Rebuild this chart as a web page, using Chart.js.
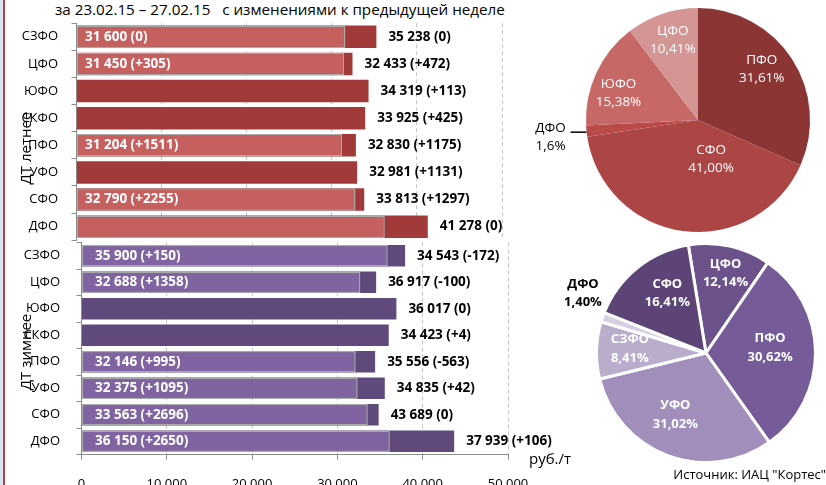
<!DOCTYPE html>
<html>
<head>
<meta charset="utf-8">
<script src="https://cdn.jsdelivr.net/npm/chart.js@4.4.1/dist/chart.umd.min.js"></script>
<style>
  html, body { margin: 0; padding: 0; background: #fff; }
  body { width: 826px; height: 485px; position: relative; overflow: hidden;
         font-family: "Open Sans", sans-serif; color: #000; }
  .box { position: absolute; }
  .txt { position: absolute; white-space: pre; line-height: 1; }
  .vtitle { position: absolute; white-space: pre; line-height: 1; font-size: 15px;
            transform: translate(-50%, -50%) rotate(-90deg); }
</style>
</head>
<body>
<div class="box" style="left:0;top:0;width:3px;height:485px;background:#dce6f2"></div>
<div class="box" style="left:3px;top:0;width:1.5px;height:485px;background:#b04442"></div>

<div class="txt" style="left:55px;top:1.5px;font-size:15.2px">за 23.02.15 – 27.02.15   с изменениями к предыдущей неделе</div>

<div class="box" style="left:0;top:0;width:520px;height:245px"><canvas id="summerBars"></canvas></div>
<div class="box" style="left:0;top:240px;width:560px;height:245px"><canvas id="winterBars"></canvas></div>
<div class="box" style="left:520px;top:0;width:306px;height:240px"><canvas id="summerPie"></canvas></div>
<div class="box" style="left:540px;top:235px;width:286px;height:250px"><canvas id="winterPie"></canvas></div>

<div class="vtitle" style="left:24.5px;top:147.5px">ДТ летнее</div>
<div class="vtitle" style="left:25px;top:352px">ДТ зимнее</div>
<div class="txt" style="left:529px;top:450.7px;font-size:15px">руб./т</div>
<div class="txt" style="right:0;top:467.5px;font-size:13px">Источник: ИАЦ "Кортес"</div>

<script>
// ---- data ----
const regions = ['СЗФО', 'ЦФО', 'ЮФО', 'СКФО', 'ПФО', 'УФО', 'СФО', 'ДФО'];

// summer diesel, руб./т
const summerLow       = [31600, 31450, null, null, 31204, null, 32790, 36230];
const summerLowChange = [0, 305, null, null, 1511, null, 2255, null];
const summerHigh       = [35238, 32433, 34319, 33925, 32830, 32981, 33813, 41278];
const summerHighChange = [0, 472, 113, 425, 1175, 1131, 1297, 0];

// winter diesel, руб./т
const winterLow       = [35900, 32688, null, null, 32146, 32375, 33563, 36150];
const winterLowChange = [150, 1358, null, null, 995, 1095, 2696, 2650];
const winterHigh       = [37939, 34543, 36917, 36017, 34423, 35556, 34835, 43689];
const winterHighChange = [106, -172, -100, 0, 4, -563, 42, 0];

const priceTicks = [0, 10000, 20000, 30000, 40000, 50000];

// shares by district, %
const summerShareRegions = ['ПФО', 'СФО', 'ДФО', 'ЮФО', 'ЦФО'];
const summerShare        = [31.61, 41.00, 1.6, 15.38, 10.41];
const summerShareDigits  = [2, 2, 1, 2, 2];
const winterShareRegions = ['ЦФО', 'ПФО', 'УФО', 'СЗФО', 'ДФО', 'СФО'];
const winterShare        = [12.14, 30.62, 31.02, 8.41, 1.40, 16.41];
const winterShareDigits  = [2, 2, 2, 2, 2, 2];

// ---- helpers ----
const FONT = '"Open Sans", sans-serif';
const num = v => String(v).replace(/\B(?=(\d{3})+(?!\d))/g, ' ');
const delta = d => (d > 0 ? '+' + d : String(d));
const note = (v, d) => `${num(v)} (${delta(d)})`;
const pct = (v, digits) => v.toFixed(digits).replace('.', ',') + '%';

const n = regions.length;
const summerInner = regions.map((_, i) =>
  summerLow[i] != null && summerLowChange[i] != null ? note(summerLow[i], summerLowChange[i]) : '');
const summerOuter = regions.map((_, i) => note(summerHigh[i], summerHighChange[i]));
const winterInner = regions.map((_, i) =>
  winterLow[i] != null && winterLowChange[i] != null ? note(winterLow[i], winterLowChange[i]) : '');
// each winter note is printed one row above its own bar
const winterOuter = regions.map((_, r) => {
  const k = (r + 1) % n;
  return note(winterHigh[k], winterHighChange[k]);
});

// text on and beside the bars
function barNotes(inner, outer, innerPad, outerPad) {
  return {
    id: 'barNotes',
    afterDatasetsDraw(chart) {
      const ctx = chart.ctx;
      const low = chart.getDatasetMeta(0).data;
      const high = chart.getDatasetMeta(1).data;
      ctx.save();
      ctx.font = `bold 13.5px ${FONT}`;
      ctx.textBaseline = 'middle';
      ctx.textAlign = 'left';
      inner.forEach((t, i) => {
        if (!t) return;
        ctx.fillStyle = '#ffffff';
        ctx.fillText(t, chart.chartArea.left + innerPad, low[i].y);
      });
      outer.forEach((t, i) => {
        ctx.fillStyle = '#000000';
        ctx.fillText(t, high[i].x + outerPad, high[i].y);
      });
      ctx.restore();
    }
  };
}

function barChart(canvasId, low, high, colors, cfg) {
  return new Chart(document.getElementById(canvasId), {
    type: 'bar',
    data: {
      labels: regions,
      datasets: [
        { data: low, backgroundColor: colors.low, borderColor: '#a9a9a9', borderWidth: 1.5,
          borderSkipped: false, grouped: false, barPercentage: cfg.barPct, categoryPercentage: 1 },
        { data: high, backgroundColor: colors.high, borderWidth: 0,
          grouped: false, barPercentage: cfg.barPct, categoryPercentage: 1 }
      ]
    },
    options: {
      indexAxis: 'y',
      responsive: true,
      maintainAspectRatio: false,
      animation: false,
      events: [],
      layout: { padding: cfg.padding },
      plugins: { legend: { display: false }, tooltip: { enabled: false } },
      scales: {
        x: {
          type: 'linear', min: 0, max: 50000,
          afterBuildTicks: s => { s.ticks = priceTicks.map(v => ({ value: v })); },
          afterFit: s => { s.height = cfg.xHeight; s.paddingLeft = 0; s.paddingRight = 0; },
          ticks: {
            display: cfg.xLabels, autoSkip: false, maxRotation: 0, padding: cfg.xPad,
            color: '#000', font: { family: FONT, size: 13 },
            callback: v => num(v)
          },
          grid: { color: '#c4c4c4', lineWidth: 1, drawTicks: cfg.xLabels, tickLength: 5,
                  tickColor: '#8c8c8c', tickWidth: 1 },
          border: { display: cfg.xLabels, color: '#8c8c8c', width: 1, dash: [4, 3] }
        },
        y: {
          type: 'category',
          afterFit: s => { s.width = cfg.yWidth; s.paddingTop = 0; s.paddingBottom = 0; },
          ticks: { color: '#000', padding: cfg.yPad, font: { family: FONT, size: 13 } },
          grid: { offset: true, drawOnChartArea: false, tickLength: 5, color: '#8c8c8c', lineWidth: 1 },
          border: { display: true, color: '#8c8c8c', width: 1 }
        }
      }
    },
    plugins: [barNotes(cfg.inner, cfg.outer, cfg.innerPad, 12)]
  });
}

barChart('summerBars', summerLow, summerHigh, { low: '#c6605e', high: '#a33a3a' }, {
  barPct: 0.83, padding: { left: 0, right: 18, top: 23.2, bottom: 4.8 },
  xHeight: 0, xLabels: false, xPad: 0, yWidth: 76.5, yPad: 13.5,
  inner: summerInner, outer: summerOuter, innerPad: 8.5
});

barChart('winterBars', winterLow, winterHigh, { low: '#8064a2', high: '#5f4a7b' }, {
  barPct: 0.81, padding: { left: 0, right: 52, top: 2.5, bottom: 0 },
  xHeight: 30.5, xLabels: true, xPad: 17, yWidth: 81.5, yPad: 16.5,
  inner: winterInner, outer: winterOuter, innerPad: 13.5
});

// slice captions, placed from each arc's own geometry
function pieNotes(names, values, digits, place, styles) {
  return {
    id: 'pieNotes',
    afterDatasetsDraw(chart) {
      const ctx = chart.ctx;
      const arcs = chart.getDatasetMeta(0).data;
      ctx.save();
      ctx.textAlign = 'center';
      ctx.textBaseline = 'middle';
      arcs.forEach((arc, i) => {
        const p = place[i];
        const mid = (arc.startAngle + arc.endAngle) / 2;
        const a = mid + (p.a * Math.PI) / 180;
        const x = arc.x + Math.cos(a) * arc.outerRadius * p.r;
        const y = arc.y + Math.sin(a) * arc.outerRadius * p.r;
        const outside = p.r > 1;
        if (p.leader) {
          const ex = arc.x + Math.cos(mid) * arc.outerRadius;
          const ey = arc.y + Math.sin(mid) * arc.outerRadius;
          ctx.strokeStyle = '#000';
          ctx.lineWidth = 1.5;
          ctx.beginPath();
          ctx.moveTo(ex, ey + 1);
          ctx.lineTo(ex - 16, ey + 1);
          ctx.stroke();
        }
        ctx.fillStyle = outside ? '#000' : '#fff';
        ctx.font = `${styles.weight} ${styles.size}px ${FONT}`;
        ctx.fillText(names[i], x, y - styles.gap / 2);
        ctx.fillText(pct(values[i], digits[i]), x, y + styles.gap / 2);
      });
      ctx.restore();
    }
  };
}

function pieChart(canvasId, names, values, digits, colors, cfg) {
  return new Chart(document.getElementById(canvasId), {
    type: 'pie',
    data: {
      labels: names,
      datasets: [{ data: values, backgroundColor: colors, borderColor: '#ffffff',
                   borderWidth: cfg.border }]
    },
    options: {
      responsive: true,
      maintainAspectRatio: false,
      animation: false,
      events: [],
      rotation: cfg.rotation,
      layout: { padding: cfg.padding },
      plugins: { legend: { display: false }, tooltip: { enabled: false } }
    },
    plugins: [pieNotes(names, values, digits, cfg.place, cfg.text)]
  });
}

pieChart('summerPie', summerShareRegions, summerShare, summerShareDigits,
  ['#8b3634', '#ab4644', '#b94a47', '#c66865', '#d49694'], {
    border: 0, rotation: 0,
    padding: { left: 66, top: 8, right: 16, bottom: 8 },
    place: [{ r: 0.73, a: -5.7 }, { r: 0.37, a: -26 }, { r: 1.326, a: -1.1, leader: true },
            { r: 0.75, a: -6 }, { r: 0.75, a: 1.3 }],
    text: { weight: 'normal', size: 13.5, gap: 18 }
  });

pieChart('winterPie', winterShareRegions, winterShare, winterShareDigits,
  ['#6c528b', '#755b97', '#a18ebb', '#baadcc', '#d6cee1', '#5c4476'], {
    border: 3, rotation: -9.3,
    padding: { left: 55, top: 7, right: 9, bottom: 21 },
    place: [{ r: 0.747, a: 1.25 }, { r: 0.587, a: -4.3 }, { r: 0.63, a: 5.9 },
            { r: 0.697, a: 1.7 }, { r: 1.249, a: 6.8 }, { r: 0.65, a: 5.9 }],
    text: { weight: 'bold', size: 13, gap: 18.4 }
  });
</script>
</body>
</html>
